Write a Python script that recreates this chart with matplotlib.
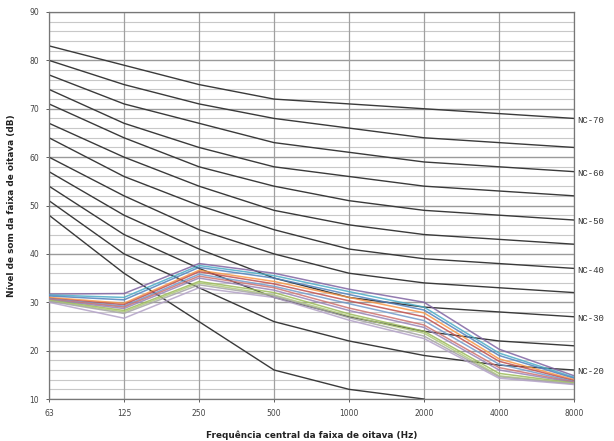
import numpy as np
import matplotlib
matplotlib.use("Agg")
import matplotlib.pyplot as plt

freqs = ["63", "125", "250", "500", "1000", "2000", "4000", "8000"]

# NC reference curves (dB)
nc_names = ["NC-70", "NC-65", "NC-60", "NC-55", "NC-50", "NC-45",
            "NC-40", "NC-35", "NC-30", "NC-25", "NC-20", "NC-15"]
nc70 = [83, 79, 75, 72, 71, 70, 69, 68]
nc65 = [80, 75, 71, 68, 66, 64, 63, 62]
nc60 = [77, 71, 67, 63, 61, 59, 58, 57]
nc55 = [74, 67, 62, 58, 56, 54, 53, 52]
nc50 = [71, 64, 58, 54, 51, 49, 48, 47]
nc45 = [67, 60, 54, 49, 46, 44, 43, 42]
nc40 = [64, 56, 50, 45, 41, 39, 38, 37]
nc35 = [60, 52, 45, 40, 36, 34, 33, 32]
nc30 = [57, 48, 41, 35, 31, 29, 28, 27]
nc25 = [54, 44, 37, 31, 27, 24, 22, 21]
nc20 = [51, 40, 33, 26, 22, 19, 17, 16]
nc15 = [48, 36, 26, 16, 12, 10, np.nan, np.nan]
nc_curves = [nc70, nc65, nc60, nc55, nc50, nc45, nc40, nc35, nc30, nc25, nc20, nc15]
labeled = ["NC-70", "NC-60", "NC-50", "NC-40", "NC-30", "NC-20"]

# measured spectra (dB)
m01 = [31.7, 31.8, 38.0, 36.0, 32.7, 30.0, 20.3, 14.8]
m02 = [31.5, 31.0, 37.6, 35.5, 32.2, 29.0, 19.5, 14.5]
m03 = [31.3, 30.5, 37.2, 35.0, 31.6, 28.4, 19.0, 14.3]
m04 = [31.0, 29.8, 36.6, 34.3, 31.0, 27.8, 18.3, 14.0]
m05 = [30.8, 29.5, 36.3, 33.8, 30.3, 27.0, 17.8, 13.8]
m06 = [30.7, 29.2, 35.8, 33.3, 29.7, 26.2, 17.2, 13.6]
m07 = [30.6, 29.0, 35.4, 33.0, 28.8, 25.3, 16.5, 13.5]
m08 = [30.5, 28.7, 35.0, 32.5, 28.3, 24.8, 16.0, 13.4]
m09 = [30.4, 28.3, 34.3, 32.0, 27.6, 24.0, 15.3, 13.3]
m10 = [30.3, 28.0, 34.0, 31.5, 27.2, 23.6, 14.8, 13.2]
m11 = [30.2, 27.7, 33.6, 31.3, 26.8, 23.0, 14.6, 13.1]
m12 = [30.0, 26.7, 33.0, 31.0, 26.3, 22.5, 14.3, 13.0]
measured = [m01, m02, m03, m04, m05, m06, m07, m08, m09, m10, m11, m12]
colors = ["#8064A2", "#4BACC6", "#4F81BD", "#F79646", "#C0504D", "#729ACA",
          "#CD7371", "#9983B5", "#9BBB59", "#AFC97A", "#A5A5A5", "#B3A2C7"]

fig = plt.figure(figsize=(6.14, 4.41), dpi=100)
ax = fig.add_axes([0.0798, 0.0952, 0.8551, 0.8776])
x = np.arange(len(freqs))

ax.set_xlim(0, len(freqs) - 1)
ax.set_ylim(10, 90)

# grid
for yv in np.arange(10, 91, 2):
    major = (yv % 10 == 0)
    ax.axhline(yv, color="#9a9a9a" if major else "#c8c8c8",
               lw=1.0 if major else 0.8, zorder=0)
for xv in x:
    ax.axvline(xv, color="#a0a0a0", lw=0.9, zorder=0)

for c in nc_curves:
    ax.plot(x, c, color="#3a3a3a", lw=1.0, zorder=2)

for vals, col in zip(measured, colors):
    ax.plot(x, vals, color=col, lw=1.1, alpha=0.85, zorder=3)

for name, c in zip(nc_names, nc_curves):
    if name in labeled:
        ax.text(1.007, c[-1] - 0.4, name, transform=ax.get_yaxis_transform(),
                ha="left", va="center", fontsize=6.5, family="Liberation Mono",
                color="#333333")

ax.set_xticks(x)
ax.set_xticklabels(freqs)
ax.set_yticks(np.arange(10, 91, 10))
ax.tick_params(axis="both", labelsize=5.5, colors="#444444", length=2, width=0.6, pad=5)
for s in ax.spines.values():
    s.set_color("#777777")
    s.set_linewidth(0.9)

ax.set_xlabel("Frequência central da faixa de oitava (Hz)", fontsize=6.4,
              fontweight="bold", labelpad=9, color="#222222",
              family="DejaVu Sans")
ax.set_ylabel("Nível de som da faixa de oitava (dB)", fontsize=6.4,
              fontweight="bold", labelpad=10, color="#222222",
              family="DejaVu Sans")

fig.savefig("out.png", dpi=100)
